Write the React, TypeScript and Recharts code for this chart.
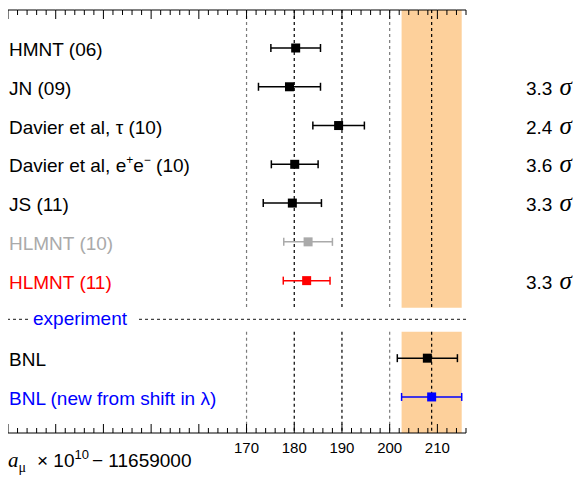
import { ScatterChart, Scatter, XAxis, YAxis, ErrorBar, ReferenceLine, ReferenceArea } from 'recharts';

// theory predictions (a_mu x 1e10 - 11659000)
const theoryNames = ['HMNT (06)', 'JN (09)', 'Davier et al, τ (10)', 'Davier et al, e+e− (10)', 'JS (11)', 'HLMNT (10)', 'HLMNT (11)'];
const theoryValues = [180.3, 179.0, 189.3, 180.1, 179.6, 182.9, 182.6];
const theoryErrors = [5.2, 6.5, 5.4, 4.9, 6.1, 5.1, 4.9];
const theoryColors = ['#000000', '#000000', '#000000', '#000000', '#000000', '#aaaaaa', '#ff0000'];
const sigmas = ['', '3.3', '2.4', '3.6', '3.3', '', '3.3'];

// measurements
const experimentNames = ['BNL', 'BNL (new from shift in λ)'];
const experimentValues = [207.9, 208.8];
const experimentErrors = [6.3, 6.3];
const experimentColors = ['#000000', '#0000ff'];

const darkGrid = [180, 190];
const lightGrid = [170, 200];
const xTickLabels = [170, 180, 190, 200, 210];
const xMin = 120;
const xMax = 216;
const xTicks = Array.from({ length: (xMax - xMin) / 2 + 1 }, (_, i) => xMin + i * 2);

const FONT = 'Liberation Sans, Arial, Helvetica, sans-serif';
const CHART_W = 573;
const CHART_H = 476;
const MARGIN_TOP = 2;
const AXIS_H = 51;
const RIGHT_W = 115;
const PLOT_W = CHART_W - RIGHT_W;
const Y_TOP = -0.98;
const Y_BOTTOM = 9.93;
const BREAK_TOP = 6.7;
const BREAK_BOTTOM = 7.32;
const SEP_ROW = theoryNames.length;

type Row = { name: string; row: number; value: number; err: number; color: string; sigma: string };

const rows: Row[] = [
  ...theoryNames.map((name, i) => ({
    name,
    row: i,
    value: theoryValues[i],
    err: theoryErrors[i],
    color: theoryColors[i],
    sigma: sigmas[i],
  })),
  ...experimentNames.map((name, i) => ({
    name,
    row: SEP_ROW + 1 + i,
    value: experimentValues[i],
    err: experimentErrors[i],
    color: experimentColors[i],
    sigma: '',
  })),
];

const seriesColors = ['#000000', '#aaaaaa', '#ff0000', '#0000ff'];
const bandLo = experimentValues[1] - experimentErrors[1];
const bandHi = experimentValues[1] + experimentErrors[1];

// frame tick anchors on the bottom and top edges
const bottomFrame = xTicks.map((v) => ({ value: v, row: Y_BOTTOM }));
const topFrame = xTicks.map((v) => ({ value: v, row: Y_TOP }));

// right axis tick: row name at the left edge of the frame, significance on the right
const RowTick = (props: any) => {
  const { x, y, payload } = props;
  const r = rows.find((d) => d.row === payload.value);
  if (!r) return null;
  const lx = x - PLOT_W + 1;
  const name = r.name.includes('e+e−') ? (
    <text x={lx} y={y + 8} fill={r.color} fontSize={19} fontFamily={FONT}>
      Davier et al, e
      <tspan fontSize={12} dy={-8}>+</tspan>
      <tspan dy={8}>e</tspan>
      <tspan fontSize={12} dy={-8}>−</tspan>
      <tspan dy={8}> (10)</tspan>
    </text>
  ) : (
    <text x={lx} y={y + 8} fill={r.color} fontSize={19} fontFamily={FONT}>
      {r.name}
    </text>
  );
  return (
    <g>
      {name}
      {r.sigma && (
        <text x={x + 60} y={y + 8} fill="#000" fontSize={19} fontFamily={FONT}>
          {r.sigma}
          <tspan dx={7} fontFamily="Liberation Serif, serif" fontStyle="italic" fontSize={25}>σ</tspan>
        </text>
      )}
    </g>
  );
};

const XLabel = (props: any) => {
  const { x, y, payload } = props;
  if (!xTickLabels.includes(payload.value)) return null;
  return (
    <text x={x} y={y + 20} textAnchor="middle" fontSize={15} fontFamily={FONT} fill="#000">
      {payload.value}
    </text>
  );
};

const AxisTitle = (props: any) => {
  const { viewBox } = props;
  const x = viewBox.x;
  const y = viewBox.y + 34;
  return (
    <text x={x} y={y} fontSize={19} fontFamily={FONT} fill="#000">
      <tspan fontFamily="Liberation Serif, serif" fontStyle="italic" fontSize={21}>a</tspan>
      <tspan fontSize={14} dy={5} fontFamily="Liberation Serif, serif">μ</tspan>
      <tspan x={x + 29} dy={-5}>× 10</tspan>
      <tspan fontSize={13} dy={-8}>10</tspan>
      <tspan dy={8} dx={3}>− 11659000</tspan>
    </text>
  );
};

const SeparatorLabel = (props: any) => {
  const { viewBox } = props;
  return (
    <g>
      <rect x={viewBox.x + 21} y={viewBox.y - 8} width={110} height={16} fill="#fff" />
      <text x={viewBox.x + 25} y={viewBox.y + 6} fill="#0000ff" fontSize={19} fontFamily={FONT}>
        experiment
      </text>
    </g>
  );
};

// tick mark shapes: direction +1 points down (top edge), -1 points up (bottom edge)
const tickShape = (dir: number) => (p: any) => {
  const len = p.payload.value % 10 === 0 ? 9 : 5;
  return <line x1={p.cx} x2={p.cx} y1={p.cy} y2={p.cy + dir * len} stroke="#000" strokeWidth={1} />;
};

export default function App() {
  const gridSegments = (v: number, color: string) => [
    <ReferenceLine
      key={`${v}-a`}
      yAxisId="right"
      segment={[{ x: v, y: Y_TOP }, { x: v, y: BREAK_TOP }]}
      stroke={color}
      strokeDasharray="3 3"
      strokeWidth={1.2}
    />,
    <ReferenceLine
      key={`${v}-b`}
      yAxisId="right"
      segment={[{ x: v, y: BREAK_BOTTOM }, { x: v, y: Y_BOTTOM }]}
      stroke={color}
      strokeDasharray="3 3"
      strokeWidth={1.2}
    />,
  ];

  return (
    <ScatterChart width={CHART_W} height={CHART_H} margin={{ top: MARGIN_TOP, right: 0, bottom: 0, left: 0 }}>
      <XAxis
        orientation="bottom"
        type="number"
        dataKey="value"
        domain={[xMin, xMax]}
        ticks={xTicks}
        interval={0}
        height={AXIS_H}
        tickSize={0}
        tickMargin={0}
        tickLine={false}
        axisLine={{ stroke: '#000', strokeWidth: 1 }}
        tick={<XLabel />}
        label={<AxisTitle />}
      />
      <YAxis
        yAxisId="right"
        orientation="right"
        type="number"
        dataKey="row"
        domain={[Y_TOP, Y_BOTTOM]}
        reversed
        width={RIGHT_W}
        ticks={rows.map((r) => r.row)}
        interval={0}
        tickSize={0}
        tickMargin={0}
        tickLine={false}
        axisLine={false}
        tick={<RowTick />}
      />

      <ReferenceArea yAxisId="right" x1={bandLo} x2={bandHi} y1={Y_TOP} y2={BREAK_TOP} fill="#fdd09b" fillOpacity={1} stroke="none" />
      <ReferenceArea yAxisId="right" x1={bandLo} x2={bandHi} y1={BREAK_BOTTOM} y2={Y_BOTTOM} fill="#fdd09b" fillOpacity={1} stroke="none" />

      {lightGrid.map((v) => gridSegments(v, '#7a7a7a'))}
      {darkGrid.map((v) => gridSegments(v, '#000'))}
      {gridSegments(experimentValues[1], '#000')}

      <ReferenceLine
        yAxisId="right"
        y={SEP_ROW}
        stroke="#444"
        strokeDasharray="3 3"
        strokeWidth={1.2}
        label={<SeparatorLabel />}
      />

      <Scatter
        yAxisId="right"
        data={bottomFrame}
        isAnimationActive={false}
        shape={tickShape(-1)}
      />
      <Scatter
        yAxisId="right"
        data={topFrame}
        isAnimationActive={false}
        line={{ stroke: '#000', strokeWidth: 1 }}
        lineType="joint"
        shape={tickShape(1)}
      />

      {seriesColors.map((c) => (
        <Scatter
          key={c}
          yAxisId="right"
          data={rows.filter((r) => r.color === c)}
          fill={c}
          isAnimationActive={false}
          shape={(p: any) => <rect x={p.cx - 4.5} y={p.cy - 4.5} width={9} height={9} fill={c} />}
        >
          <ErrorBar dataKey="err" direction="x" width={4} stroke={c} strokeWidth={1.5} />
        </Scatter>
      ))}
    </ScatterChart>
  );
}
